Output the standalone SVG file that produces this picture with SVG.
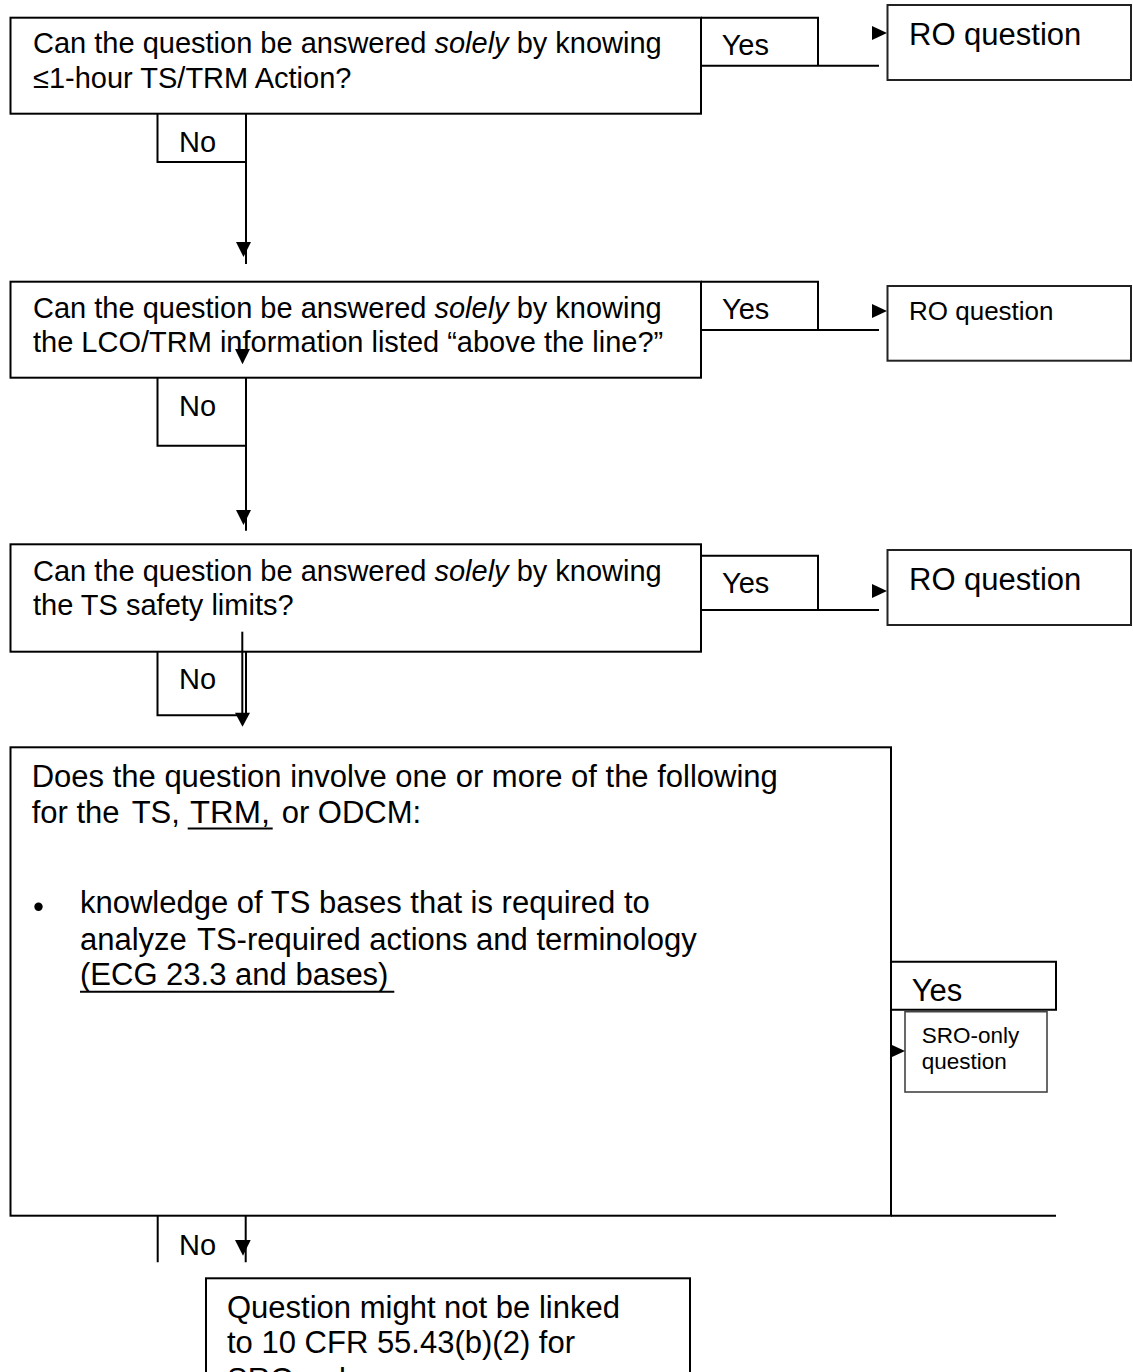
<svg xmlns="http://www.w3.org/2000/svg" width="1133" height="1372" viewBox="0 0 1133 1372">
<defs>
<style>
.box{fill:#fff;stroke:#000;stroke-width:2}
.ro{fill:#fff;stroke:#222;stroke-width:2}
.sro{fill:#fff;stroke:#444;stroke-width:1.6}
.ln{fill:none;stroke:#000;stroke-width:2}
.ah{fill:#000;stroke:none}
text{font-family:"Liberation Sans",Arial,sans-serif;fill:#000}
.t29{font-size:29px}
.t31{font-size:31px}
.t26{font-size:26px}
.t23{font-size:22.5px}
</style>
</defs>
<rect width="1133" height="1372" fill="#fff"/>

<g id="q1">
<rect class="box" x="10.5" y="17.7" width="690.5" height="96"/>
<text class="t29" x="33" y="53">Can the question be answered <tspan font-style="italic">solely</tspan> by knowing</text>
<text class="t29" x="33" y="88">≤1-hour TS/TRM Action?</text>
</g>
<g id="ro1">
<rect class="ro" x="887.5" y="5" width="243.5" height="75"/>
<text class="t31" x="909" y="45">RO question</text>
</g>

<g id="q2">
<rect class="box" x="10.5" y="281.7" width="690.5" height="96"/>
<text class="t29" x="33" y="317.5">Can the question be answered <tspan font-style="italic">solely</tspan> by knowing</text>
<text class="t29" x="33" y="352">the LCO/TRM information listed “above the line?”</text>
</g>
<g id="ro2">
<rect class="ro" x="887.5" y="286" width="243.5" height="74.7"/>
<text class="t26" x="909" y="320">RO question</text>
</g>

<g id="q3">
<rect class="box" x="10.5" y="544.3" width="690.5" height="107.4"/>
<text class="t29" x="33" y="580.5">Can the question be answered <tspan font-style="italic">solely</tspan> by knowing</text>
<text class="t29" x="33" y="615">the TS safety limits?</text>
</g>
<g id="ro3">
<rect class="ro" x="887.5" y="550" width="243.5" height="75"/>
<text class="t31" x="909" y="590">RO question</text>
</g>

<g id="q4">
<rect class="box" x="10.5" y="747.3" width="880.5" height="468.4"/>
<text class="t31" x="31.7" y="786.7">Does the question involve one or more of the following</text>
<text class="t31" y="823.3"><tspan x="31.7">for the</tspan><tspan x="131.7">TS,</tspan><tspan x="190" textLength="80" lengthAdjust="spacingAndGlyphs">TRM,</tspan><tspan x="281.7">or ODCM:</tspan></text>
<line class="ln" x1="187.7" y1="828.5" x2="272.7" y2="828.5"/>
<circle cx="38.5" cy="906.7" r="4.2" fill="#000"/>
<text class="t31" x="80" y="913.3">knowledge of TS bases that is required to</text>
<text class="t31" y="950"><tspan x="80">analyze</tspan><tspan x="197">TS-required actions and terminology</tspan></text>
<text class="t31" x="80" y="985">(ECG 23.3 and bases)</text>
<line class="ln" x1="80" y1="991.7" x2="394.3" y2="991.7"/>
</g>
<g id="sro">
<rect class="sro" x="905" y="1011.7" width="142" height="80.3"/>
<text class="t23" x="921.7" y="1042.7">SRO-only</text>
<text class="t23" x="921.7" y="1069">question</text>
</g>

<g id="end">
<rect class="box" x="206" y="1278.3" width="484" height="110"/>
<text class="t31" x="227" y="1318.3">Question might not be linked</text>
<text class="t31" x="227" y="1353.3">to 10 CFR 55.43(b)(2) for</text>
<text class="t31" x="227" y="1390">SRO-only</text>
</g>

<g id="connectors">
<path class="ln" d="M701 17.7 H818 V65.7 M701 65.7 H879"/>
<text class="t29" x="721.7" y="55">Yes</text>
<path class="ah" d="M872 26 L887 33 L872 40 Z"/>
<path class="ln" d="M246 113.7 V264 M157.5 113.7 V162 H246"/>
<text class="t29" x="179" y="151.7">No</text>
<path class="ah" d="M236 242 L251 242 L243.5 257 Z"/>

<path class="ln" d="M701 281.7 H818 V330 M701 330 H879"/>
<text class="t29" x="722" y="319">Yes</text>
<path class="ah" d="M872 304 L887 311 L872 318 Z"/>
<path class="ah" d="M235 349 L250 349 L242.5 364.3 Z"/>
<path class="ln" d="M246 377.7 V530.7 M157.5 377.7 V445.7 H246"/>
<text class="t29" x="179" y="416">No</text>
<path class="ah" d="M236 510 L251 510 L243.5 525 Z"/>

<path class="ln" d="M701 555.7 H818 V610 M701 610 H879"/>
<text class="t29" x="722" y="593">Yes</text>
<path class="ah" d="M872 584 L887 591 L872 598 Z"/>
<path class="ln" d="M246 651.7 V715.3 M157.5 651.7 V715.3 H246"/>
<line class="ln" x1="242.3" y1="631.7" x2="242.3" y2="714" stroke-width="1.6"/>
<text class="t29" x="179" y="689">No</text>
<path class="ah" d="M235 712.7 L250 712.7 L242.5 726.7 Z"/>

<path class="ln" d="M891 1215.7 H1056 M891 961.7 H1056 V1009.7 H891"/>
<text class="t31" x="911.7" y="1000.7">Yes</text>
<path class="ah" d="M892 1045 L905 1051 L892 1057 Z"/>
<path class="ln" d="M157.7 1215.7 V1262.3 M245.7 1215.7 V1262.3"/>
<text class="t29" x="179" y="1255">No</text>
<path class="ah" d="M235 1240 L250.7 1240 L243 1255.7 Z"/>
</g>
</svg>
